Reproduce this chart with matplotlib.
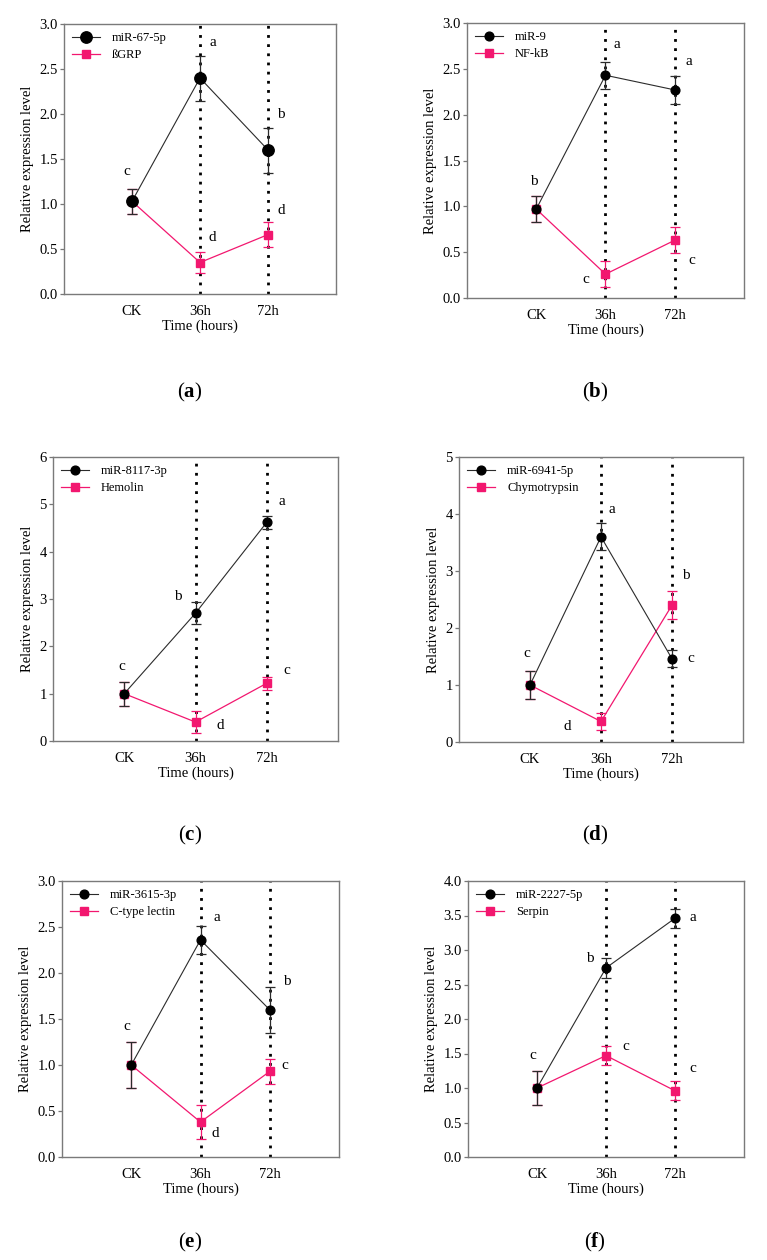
import matplotlib.pyplot as plt
import numpy as np

plt.rcParams['font.family'] = ['Liberation Serif', 'DejaVu Serif']
plt.rcParams['mathtext.fontset'] = 'custom'
plt.rcParams['mathtext.rm'] = 'Liberation Serif'
plt.rcParams['mathtext.bf'] = 'Liberation Serif:bold'

times = ['CK', '36h', '72h']

# (a)
mir_a = 'miR-67-5p'
mir_a_mean = [1.03, 2.40, 1.60]
mir_a_err = [0.14, 0.25, 0.25]
gene_a = 'ßGRP'
gene_a_mean = [1.03, 0.35, 0.66]
gene_a_err = [0.14, 0.12, 0.14]
letters_a = ['c', 'a', 'b', 'c', 'd', 'd']

# (b)
mir_b = 'miR-9'
mir_b_mean = [0.97, 2.43, 2.27]
mir_b_err = [0.14, 0.15, 0.15]
gene_b = 'NF-kB'
gene_b_mean = [0.97, 0.26, 0.63]
gene_b_err = [0.14, 0.14, 0.14]
letters_b = ['b', 'a', 'a', 'b', 'c', 'c']

# (c)
mir_c = 'miR-8117-3p'
mir_c_mean = [1.0, 2.70, 4.62]
mir_c_err = [0.25, 0.23, 0.14]
gene_c = 'Hemolin'
gene_c_mean = [1.0, 0.40, 1.22]
gene_c_err = [0.25, 0.24, 0.14]
letters_c = ['c', 'b', 'a', 'c', 'd', 'c']

# (d)
mir_d = 'miR-6941-5p'
mir_d_mean = [1.0, 3.60, 1.46]
mir_d_err = [0.25, 0.24, 0.15]
gene_d = 'Chymotrypsin'
gene_d_mean = [1.0, 0.36, 2.40]
gene_d_err = [0.25, 0.15, 0.25]
letters_d = ['c', 'a', 'c', 'c', 'd', 'b']

# (e)
mir_e = 'miR-3615-3p'
mir_e_mean = [1.0, 2.36, 1.60]
mir_e_err = [0.25, 0.15, 0.25]
gene_e = 'C-type lectin'
gene_e_mean = [1.0, 0.38, 0.93]
gene_e_err = [0.25, 0.18, 0.14]
letters_e = ['c', 'a', 'b', 'c', 'd', 'c']

# (f)
mir_f = 'miR-2227-5p'
mir_f_mean = [1.0, 2.74, 3.46]
mir_f_err = [0.25, 0.14, 0.14]
gene_f = 'Serpin'
gene_f_mean = [1.0, 1.47, 0.96]
gene_f_err = [0.25, 0.14, 0.14]
letters_f = ['c', 'b', 'a', 'c', 'c', 'c']

W, H = 767, 1260
fig = plt.figure(figsize=(W / 100, H / 100), dpi=100)

def add_ax(l, t, r, b):
    return fig.add_axes([l / W, 1 - b / H, (r - l) / W, (b - t) / H])

pink = '#F2176F'
dark = '#2b2b2b'
x = np.arange(3)

panels = [
    ('a', (64, 24, 336, 294), 3.0, 0.5, '%.1f', mir_a, mir_a_mean, mir_a_err, gene_a, gene_a_mean, gene_a_err, letters_a,
     [(-0.07, 1.36), (1.19, 2.79), (2.19, 2.0), None, (1.18, 0.63), (2.2, 0.93)], 8.2),
    ('b', (467, 23, 744, 298), 3.0, 0.5, '%.1f', mir_b, mir_b_mean, mir_b_err, gene_b, gene_b_mean, gene_b_err, letters_b,
     [(-0.04, 1.27), (1.17, 2.76), (2.21, 2.58), None, (0.71, 0.2), (2.24, 0.41)], 6.3),
    ('c', (53, 457, 338, 741), 6, 1, '%d', mir_c, mir_c_mean, mir_c_err, gene_c, gene_c_mean, gene_c_err, letters_c,
     [(-0.03, 1.58), (0.75, 3.06), (2.21, 5.07), (2.28, 1.49), (1.35, 0.33), None], 6.3),
    ('d', (459, 457, 743, 742), 5, 1, '%d', mir_d, mir_d_mean, mir_d_err, gene_d, gene_d_mean, gene_d_err, letters_d,
     [(-0.04, 1.56), (1.16, 4.08), (2.27, 1.46), None, (0.53, 0.28), (2.19, 2.92)], 6.3),
    ('e', (62, 881, 339, 1157), 3.0, 0.5, '%.1f', mir_e, mir_e_mean, mir_e_err, gene_e, gene_e_mean, gene_e_err, letters_e,
     [(-0.06, 1.42), (1.24, 2.60), (2.24, 1.91), None, (1.22, 0.26), (2.22, 0.99)], 6.3),
    ('f', (468, 881, 744, 1157), 4.0, 0.5, '%.1f', mir_f, mir_f_mean, mir_f_err, gene_f, gene_f_mean, gene_f_err, letters_f,
     [(-0.06, 1.47), (0.77, 2.88), (2.26, 3.47), None, (1.28, 1.60), (2.26, 1.28)], 6.3),
]

captions_xy = {'a': (190, 392), 'b': (595, 392), 'c': (190, 835), 'd': (595, 835), 'e': (190, 1242), 'f': (595, 1242)}

for (tag, rect, ymax, step, fmt, mir, mm, me, gene, gm, ge, letters, letter_pos, ms) in panels:
    ax = add_ax(*rect)
    # vertical dotted lines
    for xv in (1, 2):
        ax.axvline(xv, color='black', lw=2.0, ls=(0, (1, 2.3)), zorder=1)
    ax.errorbar(x, gm, yerr=ge, fmt='none', ecolor=pink, elinewidth=0.9, capsize=3.5, capthick=0.9, zorder=2)
    ax.plot(x, gm, color=pink, lw=0.9, marker='s', ms=5.6, zorder=2.5, label=gene)
    ax.errorbar(x, mm, yerr=me, fmt='none', ecolor=dark, elinewidth=0.9, capsize=3.5, capthick=0.9, zorder=3)
    ax.plot(x, mm, color=dark, lw=0.8, marker='o', mfc='black', mec='black', ms=ms, zorder=3.5, label=mir)

    for lt, pos in zip(letters, letter_pos):
        if pos is None:
            continue
        ax.text(pos[0], pos[1], lt, fontsize=11, ha='center', va='center', zorder=5)

    ax.set_xlim(-1, 3)
    ax.set_ylim(0, ymax)
    ax.set_yticks(np.arange(0, ymax + step / 2, step))
    ax.yaxis.set_major_formatter(plt.FormatStrFormatter(fmt))
    ax.set_xticks(x)
    ax.set_xticklabels(times)
    ax.tick_params(axis='x', length=0, pad=8, labelsize=10.5)
    ax.tick_params(axis='y', length=3, width=0.9, color='#777777', pad=1.5, labelsize=10.5)
    for s in ax.spines.values():
        s.set_color('#7a7a7a')
        s.set_linewidth(1.0)
    ax.set_xlabel('Time (hours)', fontsize=10.5, labelpad=1)
    ax.set_ylabel('Relative expression level', fontsize=10.5)

    h, l = ax.get_legend_handles_labels()
    ax.legend(h[::-1], l[::-1], loc='upper left', frameon=False, fontsize=9,
              handlelength=2.2, handletextpad=1.0, borderaxespad=0.25, labelspacing=0.4)

    cx, cy = captions_xy[tag]
    fig.text(cx / W, 1 - cy / H, r'($\mathbf{%s}$)' % tag, ha='center', va='center', fontsize=15)

fig.savefig('out.png', dpi=100)
